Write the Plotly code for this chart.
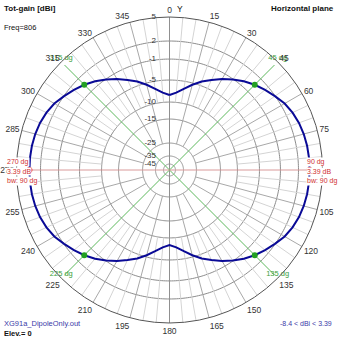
import plotly.graph_objects as go
import numpy as np

# Radial scale: ring values (dBi) and their radius as a fraction of the outer ring
scale_db = [-60, -45, -35, -25, -15, -10, -5, -1, 2, 5]
scale_frac = [0.0, 0.039, 0.0915, 0.176, 0.333, 0.444, 0.588, 0.725, 0.843, 1.0]
ring_db = [2, -1, -5, -10, -15, -25, -35, -45]
ring_label_db = [5, 2, -1, -5, -10, -15, -25, -35, -45]
ring_labels = ["5", "2", "-1", "-5", "-10", "-15", "-25", "-35", "-45"]
angle_ticks = list(range(0, 360, 15))
angle_text = ["" if a == 90 else str(a) for a in angle_ticks]

# Total gain in the horizontal plane, azimuth 0..360 step 5 deg
az_deg = list(range(0, 365, 5))
gain_dbi = [
    -8.4, -7.8, -6.7, -5.4, -4.2, -3.2, -2.1, -1.1, -0.2, 0.6,
    1.3, 1.95, 2.5, 2.85, 3.1, 3.25, 3.34, 3.38, 3.39, 3.38,
    3.34, 3.25, 3.1, 2.85, 2.5, 1.95, 1.3, 0.6, -0.2, -1.1,
    -2.1, -3.2, -4.2, -5.4, -6.7, -7.8, -8.4, -7.8, -6.7, -5.4,
    -4.2, -3.2, -2.1, -1.1, -0.2, 0.6, 1.3, 1.95, 2.5, 2.85,
    3.1, 3.25, 3.34, 3.38, 3.39, 3.38, 3.34, 3.25, 3.1, 2.85,
    2.5, 1.95, 1.3, 0.6, -0.2, -1.1, -2.1, -3.2, -4.2, -5.4,
    -6.7, -7.8, -8.4,
]

# Marked directions
green_az = [45, 135, 225, 315]
green_gain = [0.6, 0.6, 0.6, 0.6]
green_text = ["45 dg", "135 dg", "225 dg", "315 dg"]
red_az = [90, 270]
red_gain = [3.39, 3.39]


def to_r(db):
    return np.interp(np.asarray(db, dtype=float), scale_db, scale_frac)


FONT = "Liberation Sans, Arial, sans-serif"
fig = go.Figure()

# concentric dB rings
circ = np.arange(0, 361, 1)
for db in ring_db:
    fig.add_trace(go.Scatterpolar(
        theta=circ, r=np.full(circ.shape, float(to_r(db))), mode="lines",
        line=dict(color="#8c8c8c", width=1), hoverinfo="skip"))


def spokes(angles, r0, r1):
    th, rr = [], []
    for a in angles:
        th += [a, a, None]
        rr += [r0, r1, None]
    return th, rr


# minor 5-degree spokes
minor = [a for a in range(0, 360, 5) if a % 15 != 0]
th, rr = spokes(minor, float(to_r(-10)), 1.0)
fig.add_trace(go.Scatterpolar(theta=th, r=rr, mode="lines",
                              line=dict(color="#d4d4d4", width=1), hoverinfo="skip"))
# major 15-degree spokes
major = [a for a in range(0, 360, 15) if a % 45 != 0]
th, rr = spokes(major, float(to_r(-25)), 1.0)
fig.add_trace(go.Scatterpolar(theta=th, r=rr, mode="lines",
                              line=dict(color="#a8a8a8", width=1), hoverinfo="skip"))
# vertical axis through the centre
th, rr = spokes([0, 180], 0.0, 1.0)
fig.add_trace(go.Scatterpolar(theta=th, r=rr, mode="lines",
                              line=dict(color="#909090", width=1), hoverinfo="skip"))
# green 45-degree marker lines
th, rr = spokes(green_az, 0.0, 0.97)
fig.add_trace(go.Scatterpolar(theta=th, r=rr, mode="lines",
                              line=dict(color="#5cb85c", width=1), hoverinfo="skip"))
# red max-gain line
th, rr = spokes(red_az, 0.0, 1.0)
fig.add_trace(go.Scatterpolar(theta=th, r=rr, mode="lines",
                              line=dict(color="#d99a9a", width=1), hoverinfo="skip"))

# radial scale labels
fig.add_trace(go.Scatterpolar(
    theta=[0] * len(ring_label_db), r=to_r(ring_label_db), mode="markers+text",
    marker=dict(size=20, color="rgba(0,0,0,0)"), text=ring_labels,
    textposition="middle left", textfont=dict(size=8, color="#333", family=FONT),
    hoverinfo="skip", cliponaxis=False))

# gain pattern
fig.add_trace(go.Scatterpolar(
    theta=az_deg, r=to_r(gain_dbi), mode="lines",
    line=dict(color="#0a0a96", width=2), hoverinfo="skip"))

# green markers and labels
fig.add_trace(go.Scatterpolar(
    theta=green_az, r=to_r(green_gain), mode="markers",
    marker=dict(size=6, color="#22a022"), hoverinfo="skip"))
fig.add_trace(go.Scatterpolar(
    theta=green_az, r=[1.0] * 4, mode="text", text=green_text,
    textposition="top center", textfont=dict(size=7.5, color="#3aa03a", family=FONT),
    hoverinfo="skip", cliponaxis=False))
# red max markers
fig.add_trace(go.Scatterpolar(
    theta=red_az, r=to_r(red_gain), mode="markers",
    marker=dict(size=6, color="#e02020"), hoverinfo="skip"))

W = H = 339
cx, cy, R = 169.5, 170.0, 153.0


def px(x):
    return x / W


def py(y):
    return 1 - y / H


ann = []


def text(x, y, s, color="#111", size=8, bold=False, anchor="left", bg=None):
    ann.append(dict(
        x=px(x), y=py(y), xref="paper", yref="paper", text=f"<b>{s}</b>" if bold else s,
        showarrow=False, xanchor=anchor, yanchor="middle",
        font=dict(size=size, color=color, family=FONT),
        bgcolor=bg, borderpad=0))


text(3, 8, "Tot-gain [dBi]", bold=True, size=8)
text(3, 27, "Freq=806", size=7.5)
text(335, 8, "Horizontal plane", bold=True, size=8, anchor="right")
text(176, 9, "Y", size=8.5)
text(3, 323, "XG91a_DipoleOnly.out", color="#3a3aa8", size=7.5)
text(3, 333, "Elev.= 0", bold=True, size=7.5)
text(333, 323, f"{min(gain_dbi)} < dBi < {max(gain_dbi)}", color="#3a3aa8", size=7, anchor="right")

for yy, s in [(162, "270 dg"), (171.5, f"{red_gain[1]} dB"), (181, "bw: 90 dg")]:
    text(6, yy, s, color="#d03030", size=7, bg="white")
for yy, s in [(162, "90 dg"), (171.5, f"{red_gain[0]} dB"), (181, "bw: 90 dg")]:
    text(306, yy, s, color="#d03030", size=7, bg="white")

fig.update_layout(
    width=W, height=H, margin=dict(l=0, r=0, t=0, b=0),
    paper_bgcolor="white", showlegend=False, annotations=ann,
    polar=dict(
        domain=dict(x=[px(cx - R), px(cx + R)], y=[py(cy + R), py(cy - R)]),
        bgcolor="white",
        radialaxis=dict(range=[0, 1], visible=False),
        angularaxis=dict(
            direction="clockwise", rotation=90, tickmode="array",
            tickvals=angle_ticks, ticktext=angle_text,
            showgrid=False, showline=True, linecolor="#555", linewidth=1,
            ticks="", tickfont=dict(size=8.5, color="#333", family=FONT)),
    ),
)

fig.write_html("out.html")
